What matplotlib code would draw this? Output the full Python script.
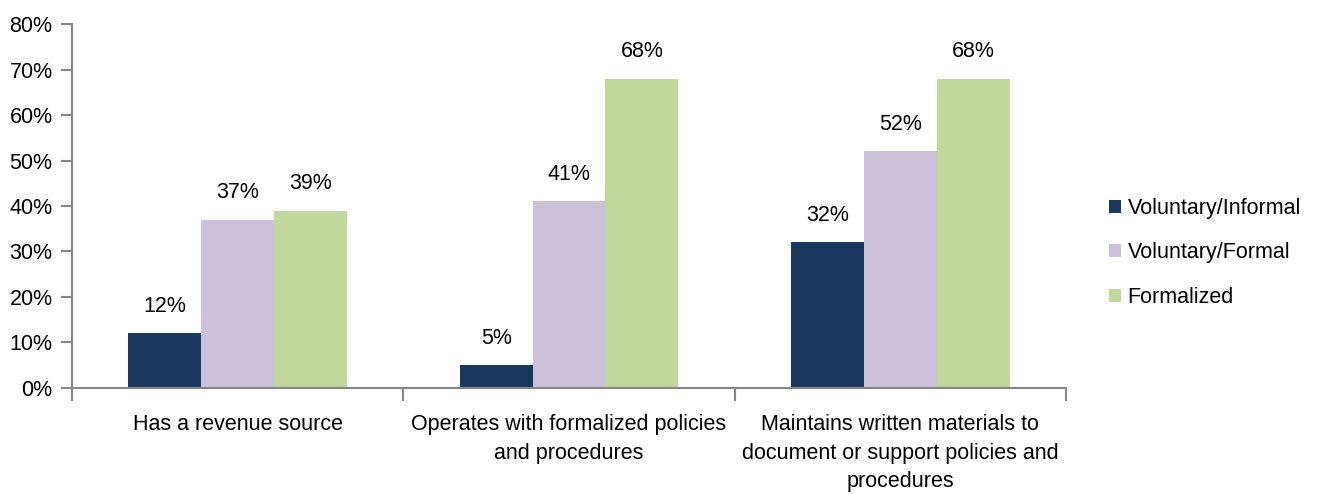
import numpy as np
import matplotlib.pyplot as plt

categories = ["Has a revenue source",
              "Operates with formalized policies\nand procedures",
              "Maintains written materials to\ndocument or support policies and\nprocedures"]
series = ["Voluntary/Informal", "Voluntary/Formal", "Formalized"]
informal = [12, 5, 32]
vol_formal = [37, 41, 52]
formalized = [39, 68, 68]
colors = ["#1A375E", "#CCC1DA", "#C3D69B"]

plt.rcParams['font.family'] = ['Liberation Sans', 'DejaVu Sans']
fs = 15.5

fig = plt.figure(figsize=(13.19, 4.94), dpi=100)
ax = fig.add_axes([0.0546, 0.2146, 0.7536, 0.7368])

x = np.arange(len(categories)) + 0.5
width = 0.22
for i, (vals, name) in enumerate(zip([informal, vol_formal, formalized], series)):
    bars = ax.bar(x + (i - 1) * width, vals, width, color=colors[i], label=name)
    for b, v in zip(bars, vals):
        ax.annotate(f"{v}%", (b.get_x() + b.get_width() / 2, v), xytext=(0, 12),
                    textcoords="offset points", ha="center", va="bottom", fontsize=fs)

ax.set_xlim(0, 3)
ax.set_ylim(0, 80)
ax.set_yticks(np.arange(0, 81, 10))
ax.set_yticklabels([f"{t}%" for t in range(0, 81, 10)], fontsize=fs)

# boundaries get tick marks, centres carry the labels
ax.set_xticks([0, 1, 2, 3])
ax.set_xticklabels([])
ax.set_xticks(x, minor=True)
ax.set_xticklabels(categories, minor=True, fontsize=fs, linespacing=1.45)
ax.tick_params(axis='x', which='minor', length=0, pad=19)
ax.tick_params(axis='x', which='major', length=9, color="#868686", width=1.5)
ax.tick_params(axis='y', length=8, color="#868686", width=1.5, pad=6)

for s in ["top", "right"]:
    ax.spines[s].set_visible(False)
for s in ["left", "bottom"]:
    ax.spines[s].set_color("#868686")
    ax.spines[s].set_linewidth(1.5)

ax.legend(loc="center left", bbox_to_anchor=(1.024, 0.371), frameon=False, fontsize=fs,
          handlelength=0.55, handleheight=0.55, handletextpad=0.3, labelspacing=1.1)

fig.savefig("out.png", dpi=100)
